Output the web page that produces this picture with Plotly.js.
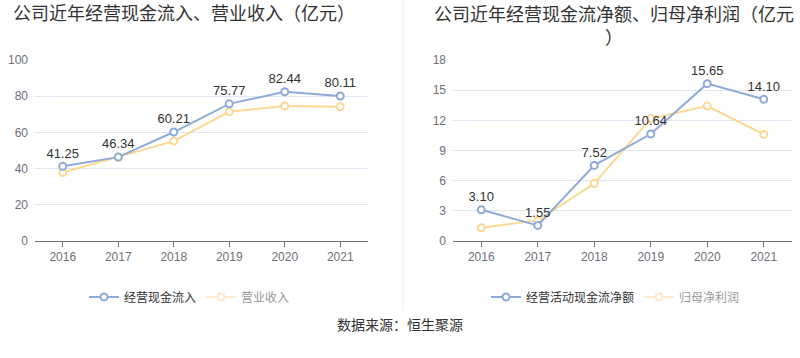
<!DOCTYPE html>
<html>
<head>
<meta charset="utf-8">
<script src="https://cdn.plot.ly/plotly-3.0.1.min.js"></script>
<style>html,body{margin:0;padding:0;background:#fff;}#chart{width:800px;height:358px;}</style>
</head>
<body>
<div id="chart"></div>
<script>
const years = ['2016', '2017', '2018', '2019', '2020', '2021'];
const cashInflow = [41.25, 46.34, 60.21, 75.77, 82.44, 80.11];
const revenue = [37.8, 46.3, 55.2, 71.4, 74.6, 74.2];
const netCashFlow = [3.10, 1.55, 7.52, 10.64, 15.65, 14.10];
const netProfit = [1.32, 2.05, 5.72, 12.17, 13.42, 10.61];
const leftTitle = '公司近年经营现金流入、营业收入（亿元）';
const rightTitle = '公司近年经营现金流净额、归母净利润（亿元<br>）';
const sourceText = '数据来源：恒生聚源';

const BLUE = '#8eaadb';
const ORANGE = '#fdd894';
const FONT = 'Liberation Sans, Noto Sans CJK SC, sans-serif';

function line(x, y, name, color, xa, ya, legend, labels, extra) {
  return Object.assign({
    type: 'scatter', mode: labels ? 'lines+markers+text' : 'lines+markers',
    x: x, y: y, name: name, xaxis: xa, yaxis: ya, legend: legend,
    line: {color: color, width: 2},
    marker: {symbol: 'circle', size: 7, color: '#fff', line: {color: color, width: 2}},
    text: labels ? y.map(v => v.toFixed(2)) : undefined,
    textposition: 'top center',
    textfont: {size: 13, color: '#333', family: FONT},
    cliponaxis: false,
    hoverinfo: 'x+y'
  }, extra || {});
}

const traces = [
  line(years, revenue, '营业收入', ORANGE, 'x', 'y', 'legend', false, {showlegend: false}),
  line(years, cashInflow, '经营现金流入', BLUE, 'x', 'y', 'legend', true),
  line(years, revenue, '营业收入', ORANGE, 'x', 'y', 'legend', false, {visible: 'legendonly'}),
  line(years, netProfit, '归母净利润', ORANGE, 'x2', 'y2', 'legend2', false, {showlegend: false}),
  line(years, netCashFlow, '经营活动现金流净额', BLUE, 'x2', 'y2', 'legend2', true),
  line(years, netProfit, '归母净利润', ORANGE, 'x2', 'y2', 'legend2', false, {visible: 'legendonly'})
];

function xaxis(domain, anchor) {
  return {
    domain: domain, anchor: anchor, type: 'category', range: [-0.5, 5.5],
    showline: true, linecolor: '#6e7079', linewidth: 1,
    ticks: 'outside', ticklen: 5, tickcolor: '#6e7079',
    showgrid: false, zeroline: false,
    tickfont: {size: 12, color: '#6e7079', family: FONT}, fixedrange: true
  };
}
function yaxis(domain, anchor, max, dtick) {
  return {
    domain: domain, anchor: anchor, range: [0, max], dtick: dtick,
    showline: false, zeroline: false, showgrid: true, gridcolor: '#e0e6f1', gridwidth: 1,
    ticks: '', ticklabelstandoff: 6,
    tickfont: {size: 12, color: '#6e7079', family: FONT}, fixedrange: true
  };
}

const yDom = [(358 - 241) / 358, (358 - 60) / 358];
const layout = {
  width: 800, height: 358,
  margin: {l: 0, r: 0, t: 0, b: 0},
  paper_bgcolor: '#fff', plot_bgcolor: '#fff',
  font: {family: FONT, color: '#333'},
  showlegend: true,
  xaxis: xaxis([35 / 800, 368 / 800], 'y'),
  yaxis: yaxis(yDom, 'x', 100, 20),
  xaxis2: xaxis([453 / 800, 792 / 800], 'y2'),
  yaxis2: yaxis(yDom, 'x2', 18, 3),
  legend: {orientation: 'h', x: 84 / 800, xanchor: 'left', y: (358 - 297) / 358, yanchor: 'middle',
           font: {size: 12, color: '#333', family: FONT}, bgcolor: 'rgba(0,0,0,0)', itemclick: false},
  legend2: {orientation: 'h', x: 486 / 800, xanchor: 'left', y: (358 - 297) / 358, yanchor: 'middle',
           font: {size: 12, color: '#333', family: FONT}, bgcolor: 'rgba(0,0,0,0)', itemclick: false},
  annotations: [
    {text: leftTitle, xref: 'paper', yref: 'paper', x: 184 / 800, y: (358 - 14) / 358,
     xanchor: 'center', yanchor: 'middle', showarrow: false, font: {size: 18, color: '#333', family: FONT}},
    {text: rightTitle, xref: 'paper', yref: 'paper', x: 614 / 800, y: (358 - 3) / 358,
     xanchor: 'center', yanchor: 'top', align: 'center', showarrow: false,
     font: {size: 18, color: '#333', family: FONT}},
    {text: sourceText, xref: 'paper', yref: 'paper', x: 0.5, y: (358 - 325) / 358,
     xanchor: 'center', yanchor: 'middle', showarrow: false, font: {size: 14, color: '#333', family: FONT}}
  ],
  shapes: [
    {type: 'line', xref: 'paper', yref: 'paper', x0: 403 / 800, x1: 403 / 800, y0: (358 - 310) / 358, y1: 1,
     line: {color: '#eeeeee', width: 1}}
  ]
};

Plotly.newPlot('chart', traces, layout, {displayModeBar: false, staticPlot: false});
</script>
</body>
</html>
